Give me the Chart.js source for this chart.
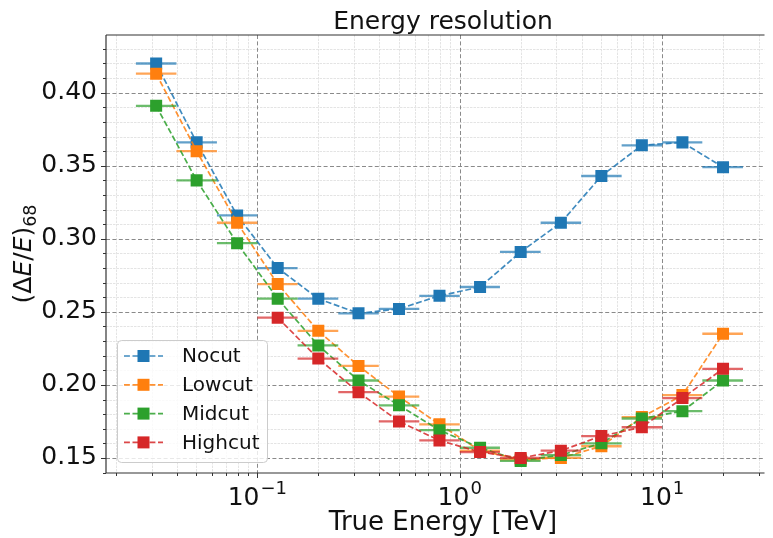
<!DOCTYPE html>
<html>
<head>
<meta charset="utf-8">
<script src="https://cdn.jsdelivr.net/npm/chart.js@4.4.0/dist/chart.umd.min.js"></script>
<style>
  html, body { margin: 0; padding: 0; background: #fff; }
  #wrap { width: 773px; height: 538px; position: relative; }
</style>
</head>
<body>
<div id="wrap"><canvas id="c"></canvas></div>
<script>
// energy bins (TeV): centres and edges
var energyBins = [0.0316, 0.0501, 0.0794, 0.126, 0.2, 0.316, 0.501, 0.794, 1.26, 2.0, 3.16, 5.01, 7.94, 12.6, 20.0];
var binLow  = [0.0251, 0.0398, 0.0631, 0.1, 0.158, 0.251, 0.398, 0.631, 1.0, 1.58, 2.51, 3.98, 6.31, 10.0, 15.8];
var binHigh = [0.0398, 0.0631, 0.1, 0.158, 0.251, 0.398, 0.631, 1.0, 1.58, 2.51, 3.98, 6.31, 10.0, 15.8, 25.1];

var nocut   = [0.420, 0.366, 0.316, 0.280, 0.259, 0.249, 0.252, 0.261, 0.267, 0.291, 0.311, 0.343, 0.364, 0.366, 0.349];
var lowcut  = [0.413, 0.360, 0.311, 0.269, 0.237, 0.213, 0.192, 0.173, 0.155, 0.149, 0.150, 0.158, 0.178, 0.193, 0.235];
var midcut  = [0.391, 0.340, 0.297, 0.259, 0.227, 0.203, 0.186, 0.169, 0.157, 0.148, 0.152, 0.160, 0.177, 0.182, 0.203];
var highcut = [null, null, null, 0.246, 0.218, 0.195, 0.175, 0.162, 0.154, 0.150, 0.155, 0.165, 0.171, 0.191, 0.211];

var seriesNames  = ["Nocut", "Lowcut", "Midcut", "Highcut"];
var seriesValues = [nocut, lowcut, midcut, highcut];
var seriesColors = ["#1f77b4", "#ff7f0e", "#2ca02c", "#d62728"];

var yTicks = [0.15, 0.20, 0.25, 0.30, 0.35, 0.40];
var xTicks = [0.1, 1, 10];
var xTickExp = ["\u22121", "0", "1"];

var FONT = '"DejaVu Sans", sans-serif';
var lineDash = [5.9, 2.6];

function rgba(hex, a) {
  var n = parseInt(hex.slice(1), 16);
  return "rgba(" + (n >> 16) + "," + ((n >> 8) & 255) + "," + (n & 255) + "," + a + ")";
}

var datasets = seriesNames.map(function (name, k) {
  return {
    label: name,
    data: energyBins.map(function (x, i) { return { x: x, y: seriesValues[k][i] }; }),
    borderColor: rgba(seriesColors[k], 0.85),
    borderWidth: 1.7,
    borderDash: lineDash,
    backgroundColor: seriesColors[k],
    pointStyle: "rect",
    pointRadius: 8.5,
    pointHoverRadius: 8.5,
    pointBorderWidth: 0,
    pointBackgroundColor: seriesColors[k],
    pointBorderColor: seriesColors[k],
    fill: false,
    tension: 0,
    order: 4 - k
  };
});

function seg(ctx, x1, y1, x2, y2) {
  ctx.beginPath(); ctx.moveTo(x1, y1); ctx.lineTo(x2, y2); ctx.stroke();
}

var decor = {
  id: "decor",
  beforeDatasetsDraw: function (chart) {
    var ctx = chart.ctx, a = chart.chartArea, xs = chart.scales.x, ys = chart.scales.y;
    ctx.save();
    ctx.beginPath(); ctx.rect(a.left, a.top, a.right - a.left, a.bottom - a.top); ctx.clip();
    ctx.lineWidth = 1;
    // minor grid
    ctx.strokeStyle = "#e4e4e4"; ctx.setLineDash([2.5, 1]);
    for (var e = -2; e <= 1; e++) {
      for (var m = 2; m <= 9; m++) {
        var v = m * Math.pow(10, e);
        if (v < xs.min || v > xs.max) continue;
        var px = Math.round(xs.getPixelForValue(v)) + 0.5;
        seg(ctx, px, a.top, px, a.bottom);
      }
    }
    for (var j = 14; j <= 43; j++) {
      if (j % 5 === 0) continue;
      var py = Math.round(ys.getPixelForValue(j / 100)) + 0.5;
      seg(ctx, a.left, py, a.right, py);
    }
    // major grid
    ctx.strokeStyle = "#8a8a8a"; ctx.setLineDash([4, 2.4]);
    xTicks.forEach(function (v) {
      var px = Math.round(xs.getPixelForValue(v)) + 0.5;
      seg(ctx, px, a.top, px, a.bottom);
    });
    yTicks.forEach(function (v) {
      var py = Math.round(ys.getPixelForValue(v)) + 0.5;
      seg(ctx, a.left, py, a.right, py);
    });
    ctx.restore();
  },
  beforeDatasetDraw: function (chart, args) {
    var ctx = chart.ctx, a = chart.chartArea, xs = chart.scales.x, ys = chart.scales.y;
    var k = args.index, vals = seriesValues[k];
    ctx.save();
    ctx.beginPath(); ctx.rect(a.left, a.top, a.right - a.left, a.bottom - a.top); ctx.clip();
    ctx.strokeStyle = rgba(seriesColors[k], 0.7);
    ctx.lineWidth = 2.3;
    ctx.setLineDash([]);
    for (var i = 0; i < energyBins.length; i++) {
      if (vals[i] == null) continue;
      var py = ys.getPixelForValue(vals[i]);
      seg(ctx, xs.getPixelForValue(binLow[i]), py, xs.getPixelForValue(binHigh[i]), py);
    }
    ctx.restore();
  },
  afterDraw: function (chart) {
    var ctx = chart.ctx, a = chart.chartArea, xs = chart.scales.x, ys = chart.scales.y;
    ctx.save();
    // spines
    ctx.strokeStyle = "#333"; ctx.lineWidth = 1.2; ctx.setLineDash([]);
    seg(ctx, a.left, a.top, a.left, a.bottom);
    seg(ctx, a.left, a.top, a.right, a.top);
    seg(ctx, a.left, a.bottom, a.right, a.bottom);
    // tick marks
    ctx.lineWidth = 1;
    yTicks.forEach(function (v) {
      var py = Math.round(ys.getPixelForValue(v)) + 0.5;
      seg(ctx, a.left - 5, py, a.left, py);
    });
    for (var j = 14; j <= 43; j++) {
      if (j % 5 === 0) continue;
      var py = Math.round(ys.getPixelForValue(j / 100)) + 0.5;
      seg(ctx, a.left - 3, py, a.left, py);
    }
    xTicks.forEach(function (v) {
      var px = Math.round(xs.getPixelForValue(v)) + 0.5;
      seg(ctx, px, a.bottom, px, a.bottom + 5);
    });
    for (var e = -2; e <= 1; e++) {
      for (var m = 2; m <= 9; m++) {
        var v = m * Math.pow(10, e);
        if (v < xs.min || v > xs.max) continue;
        var px = Math.round(xs.getPixelForValue(v)) + 0.5;
        seg(ctx, px, a.bottom, px, a.bottom + 3);
      }
    }
    // x tick labels 10^n
    ctx.fillStyle = "#111"; ctx.textAlign = "left"; ctx.textBaseline = "alphabetic";
    xTicks.forEach(function (v, i) {
      var px = xs.getPixelForValue(v);
      ctx.font = "25px " + FONT;
      var w1 = ctx.measureText("10").width;
      ctx.font = "18px " + FONT;
      var w2 = ctx.measureText(xTickExp[i]).width;
      var x0 = px - (w1 + w2 + 1) / 2;
      ctx.font = "25px " + FONT;
      ctx.fillText("10", x0, 505);
      ctx.font = "18px " + FONT;
      ctx.fillText(xTickExp[i], x0 + w1 + 1, 494);
    });
    // title and x label
    ctx.textAlign = "center";
    ctx.font = "25px " + FONT;
    ctx.fillText("Energy resolution", 443, 28.5);
    ctx.font = "26px " + FONT;
    ctx.fillText("True Energy [TeV]", 443, 530);
    // y label (ΔE/E)_68
    ctx.save();
    ctx.translate(31, 254);
    ctx.rotate(-Math.PI / 2);
    ctx.textAlign = "left";
    var parts = [["(", ""], ["\u0394", ""], ["E", "italic "], ["/", ""], ["E", "italic "], [")", ""]];
    var total = 0;
    parts.forEach(function (p) { ctx.font = p[1] + "25px " + FONT; total += ctx.measureText(p[0]).width; });
    ctx.font = "17.5px " + FONT;
    total += ctx.measureText("68").width;
    var cx = -total / 2;
    parts.forEach(function (p) {
      ctx.font = p[1] + "25px " + FONT;
      ctx.fillText(p[0], cx, 0);
      cx += ctx.measureText(p[0]).width;
    });
    ctx.font = "17.5px " + FONT;
    ctx.fillText("68", cx, 5);
    ctx.restore();
    // legend
    ctx.beginPath();
    ctx.roundRect(117.5, 340.5, 150, 122, 4);
    ctx.fillStyle = "rgba(255,255,255,0.8)"; ctx.fill();
    ctx.strokeStyle = "#cccccc"; ctx.lineWidth = 1; ctx.stroke();
    seriesNames.forEach(function (name, k) {
      var yc = 356 + k * 28.8;
      ctx.strokeStyle = rgba(seriesColors[k], 0.85);
      ctx.lineWidth = 1.7;
      ctx.setLineDash(lineDash);
      seg(ctx, 124, yc, 163, yc);
      ctx.setLineDash([]);
      ctx.fillStyle = seriesColors[k];
      ctx.fillRect(143.5 - 6, yc - 6, 12, 12);
      ctx.fillStyle = "#111";
      ctx.font = "20px " + FONT;
      ctx.textAlign = "left"; ctx.textBaseline = "middle";
      ctx.fillText(name, 182, yc + 1);
    });
    ctx.restore();
  }
};

new Chart(document.getElementById("c"), {
  type: "line",
  data: { datasets: datasets },
  options: {
    responsive: true,
    maintainAspectRatio: false,
    animation: false,
    devicePixelRatio: 1,
    layout: { padding: { top: 35, left: 0, right: 0, bottom: 0 } },
    plugins: { legend: { display: false }, title: { display: false }, tooltip: { enabled: false } },
    scales: {
      x: {
        type: "logarithmic",
        min: 0.01786,
        max: 32.06,
        grid: { display: false, drawTicks: false },
        border: { display: false },
        ticks: { display: false },
        afterBuildTicks: function (s) { s.ticks = xTicks.map(function (v) { return { value: v }; }); },
        afterFit: function (s) { s.height = 65; }
      },
      y: {
        type: "linear",
        min: 0.1397,
        max: 0.4395,
        grid: { display: false, drawTicks: false },
        border: { display: false },
        ticks: {
          padding: 9,
          color: "#111",
          font: { family: FONT, size: 25 },
          callback: function (v) { return v.toFixed(2); }
        },
        afterBuildTicks: function (s) { s.ticks = yTicks.map(function (v) { return { value: v }; }); },
        afterFit: function (s) { s.width = 106; }
      }
    }
  },
  plugins: [decor]
});
</script>
</body>
</html>
